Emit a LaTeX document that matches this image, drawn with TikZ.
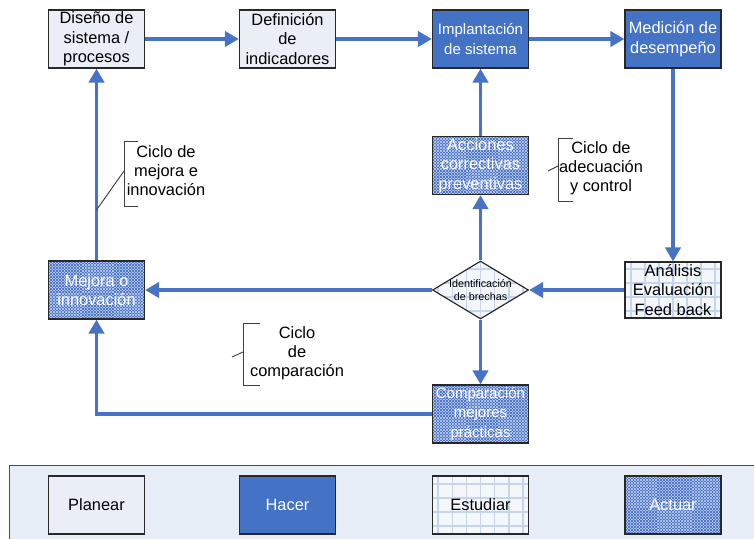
\documentclass[tikz,border=0pt]{standalone}
\usepackage{fontspec}
\setmainfont{Liberation Sans}
\usetikzlibrary{shapes.geometric,arrows.meta}
\definecolor{hacerblue}{RGB}{68,114,196}
\definecolor{flowblue}{RGB}{71,115,196}
\definecolor{planfill}{RGB}{233,238,247}
\definecolor{legendfill}{RGB}{232,238,248}
\definecolor{estfill}{RGB}{244,247,252}
\definecolor{gridline}{RGB}{198,213,236}
\definecolor{actfill}{RGB}{80,118,198}
\definecolor{actdot}{RGB}{172,193,232}
\definecolor{boxline}{RGB}{40,40,40}

\begin{document}
\begin{tikzpicture}[x=0.03cm, y=-0.03cm,
    box/.style={draw=boxline, line width=1pt, minimum width=2.88cm, minimum height=1.74cm, inner sep=0pt, align=center, font=\fontsize{14}{16.6}\selectfont},
    planbox/.style={box, fill=planfill},
    hacerbox/.style={box, fill=hacerblue, text=white},
    estgrid/.style={fill=estfill, path picture={
        \foreach \k in {-5,...,5}{
          \draw[gridline, line width=1.5pt] ([xshift=\k*12pt]path picture bounding box.south) -- ([xshift=\k*12pt]path picture bounding box.north);
          \draw[gridline, line width=1.5pt] ([yshift=\k*12pt+6pt]path picture bounding box.west) -- ([yshift=\k*12pt+6pt]path picture bounding box.east);
        }}},
    actdots/.style={fill=actfill, path picture={
        \foreach \k in {0,2,...,40}{
          \draw[actdot, line width=1.3pt, dash pattern=on 1.3pt off 1.3pt] ([yshift=-\k*1.3pt-0.65pt]path picture bounding box.north west) -- ([yshift=-\k*1.3pt-0.65pt]path picture bounding box.north east);
        }
        \foreach \k in {1,3,...,41}{
          \draw[actdot, line width=1.3pt, dash pattern=on 1.3pt off 1.3pt, dash phase=1.3pt] ([yshift=-\k*1.3pt-0.65pt]path picture bounding box.north west) -- ([yshift=-\k*1.3pt-0.65pt]path picture bounding box.north east);
        }}},
    estbox/.style={box, estgrid},
    actbox/.style={box, actdots, text=white},
    brechabox/.style={diamond, draw=boxline, line width=1pt, minimum width=2.88cm, minimum height=1.74cm, inner sep=0pt, estgrid},
    smaller/.style={font=\fontsize{12.8}{16.6}\selectfont},
    flow/.style={draw=flowblue, line width=3.4pt, -{Triangle[length=12pt,width=13pt]}},
    bracket/.style={draw=black!75, line width=0.8pt},
    ciclo/.style={align=center, font=\fontsize{14}{16.2}\selectfont}]
    \useasboundingbox (0,0) rectangle (754,539);

    % Legend strip
    \draw[draw=black!70, fill=legendfill] (9,465) rectangle (770,550);
    \node[planbox] (planear) at (96.5,505) {Planear};
    \node[hacerbox] (hacer) at (287.5,505) {Hacer};
    \node[estbox] (estudiar) at (480.5,505) {Estudiar};
    \node[actbox] (actuar) at (673,505) {Actuar};

    % Top row
    \node[planbox] (diseno) at (96.5,39) {Diseño de\\sistema /\\procesos};
    \node[planbox] (definicion) at (287.5,39) {Definición\\de\\indicadores};
    \node[hacerbox, smaller] (implantacion) at (480.5,39) {Implantación\\de sistema};
    \node[hacerbox] (medicion) at (673,39) {Medición de\\desempeño};

    % Middle and lower rows
    \node[actbox] (acciones) at (480.5,165.5) {Acciones\\correctivas\\preventivas};
    \node[actbox] (mejora) at (96.5,290) {Mejora o\\innovación};
    \node[brechabox, label={[align=center, font=\fontsize{9.2}{10.8}\selectfont]center:{Identificación\\de brechas}}] (brechas) at (480.5,290) {};
    \node[estbox, minimum height=1.68cm] (analisis) at (673,290) {Análisis\\Evaluación\\Feed back};
    \node[actbox, smaller] (comparacion) at (480.5,414) {Comparación\\mejores\\prácticas};

    % Flow arrows
    \draw[flow] (diseno) -- (definicion);
    \draw[flow] (definicion) -- (implantacion);
    \draw[flow] (implantacion) -- (medicion);
    \draw[flow] (medicion) -- (analisis);
    \draw[flow] (analisis) -- (brechas);
    \draw[flow] (brechas) -- (mejora);
    \draw[flow] (brechas) -- (acciones);
    \draw[flow] (acciones) -- (implantacion);
    \draw[flow] (brechas) -- (comparacion);
    \draw[flow] (comparacion) -| (mejora);
    \draw[flow] (mejora) -- (diseno);

    % Cycle brackets
    \node[ciclo] (mejoralbl) at (166,171) {Ciclo de\\mejora e\\innovación};
    \draw[bracket] (138,141) -- (124,141) -- (124,206) -- (138,206);
    \coordinate (mejorapt) at (96.5,210);
    \draw[bracket] (124,171) -- (mejorapt);

    \node[ciclo] (adecuacionlbl) at (601,168) {Ciclo de\\adecuación\\y control};
    \draw[bracket] (573,138) -- (558,138) -- (558,201) -- (573,201);
    \draw[bracket] (548,171) -- (558,166);

    \node[ciclo] (comparacionlbl) at (297,353) {Ciclo\\de\\comparación};
    \draw[bracket] (260,323) -- (243,323) -- (243,385) -- (260,385);
    \draw[bracket] (232,357) -- (243,352);
\end{tikzpicture}
\end{document}
